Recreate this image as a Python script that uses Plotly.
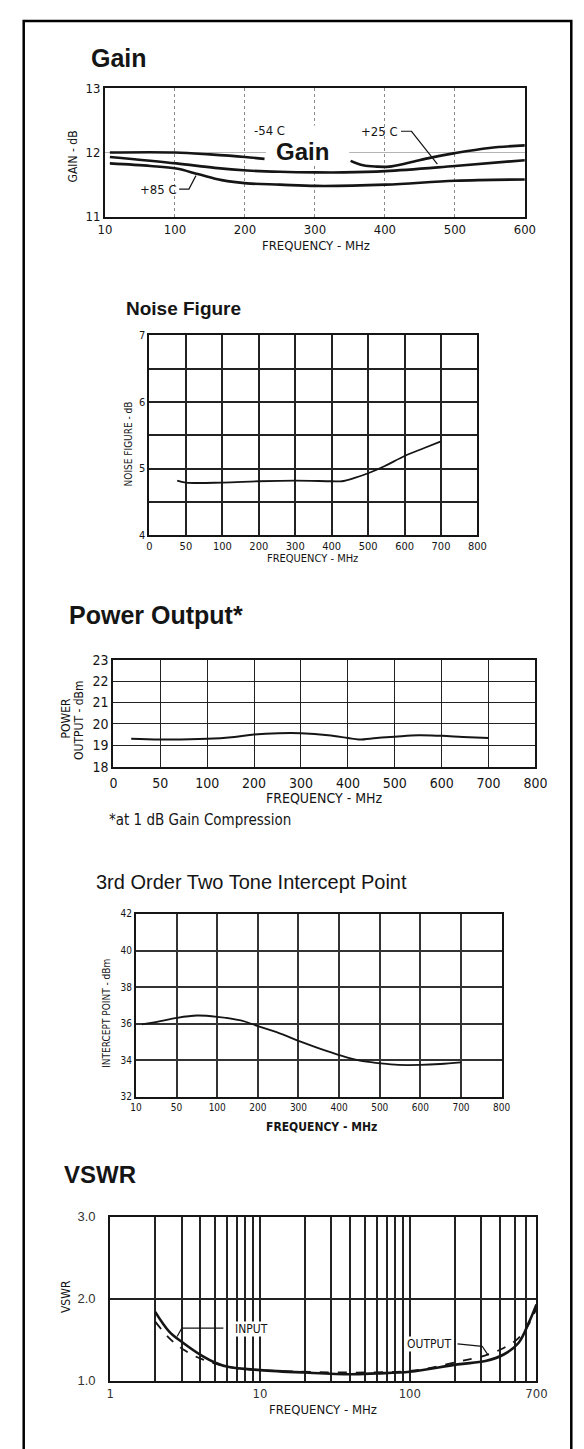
import numpy as np
import plotly.graph_objects as go

W, H = 584, 1449

# ---------------- data ----------------
# Gain (dB) vs frequency (MHz)
GAIN_X_TICKS = [0, 100, 200, 300, 400, 500, 600]
GAIN_X_LABELS = ["10", "100", "200", "300", "400", "500", "600"]
GAIN_Y_TICKS = [11, 12, 13]
GAIN_M54_FREQ_A = [7, 100, 150, 200, 228]
GAIN_M54_A = [12.0, 12.0, 11.97, 11.93, 11.9]
GAIN_M54_FREQ_B = [351, 369, 388, 406, 434, 466, 500, 549, 600]
GAIN_M54_B = [11.87, 11.8, 11.78, 11.78, 11.84, 11.92, 11.99, 12.07, 12.11]
GAIN_P25_FREQ = [7, 102, 157, 203, 250, 302, 341, 401, 500, 600]
GAIN_P25 = [11.93, 11.83, 11.76, 11.72, 11.70, 11.69, 11.69, 11.71, 11.79, 11.88]
GAIN_P85_FREQ = [7, 65, 102, 134, 167, 203, 250, 302, 401, 500, 600]
GAIN_P85 = [11.83, 11.79, 11.75, 11.66, 11.57, 11.52, 11.50, 11.48, 11.50, 11.56, 11.58]

# Noise figure (dB)
NF_X_LABELS = [0, 50, 100, 200, 300, 400, 500, 600, 700, 800]
NF_FREQ = [38, 50, 100, 200, 300, 400, 428, 463, 500, 546, 600, 654, 700]
NF_DB = [4.82, 4.79, 4.79, 4.81, 4.82, 4.81, 4.81, 4.86, 4.93, 5.04, 5.19, 5.31, 5.41]

# Power output (dBm)
PO_X_LABELS = [0, 50, 100, 200, 300, 400, 500, 600, 700, 800]
PO_FREQ = [19, 50, 100, 158, 200, 252, 300, 358, 400, 423, 461, 500, 550, 600, 645, 700]
PO_DBM = [19.31, 19.27, 19.30, 19.39, 19.5, 19.56, 19.56, 19.47, 19.34, 19.27, 19.34,
          19.4, 19.47, 19.44, 19.39, 19.34]

# 3rd order intercept point (dBm)
IP_X_LABELS = [10, 50, 100, 200, 300, 400, 500, 600, 700, 800]
IP_Y_TICKS = [32, 34, 36, 38, 40, 42]
IP_FREQ = [16, 34, 50, 75, 100, 158, 200, 261, 300, 356, 400, 451, 500, 546, 600, 649, 700]
IP_DBM = [35.96, 36.14, 36.32, 36.45, 36.38, 36.18, 35.87, 35.42, 35.06, 34.61, 34.29,
          33.98, 33.84, 33.75, 33.75, 33.80, 33.89]

# VSWR
VSWR_GRID = [1, 2, 3, 4, 5, 6, 7, 8, 9, 10, 20, 30, 40, 50, 60, 70, 80, 90,
             100, 200, 300, 400, 500, 600, 700]
VSWR_LABELED = [1, 10, 100, 700]
IN_FREQ = [2.0, 2.48, 3.08, 4.14, 5.04, 6.1, 10, 20, 40, 60, 100, 208, 320, 423, 531, 627, 700]
IN_VSWR = [1.84, 1.60, 1.46, 1.30, 1.22, 1.17, 1.13, 1.10, 1.08, 1.09, 1.11, 1.20, 1.24,
           1.32, 1.46, 1.72, 1.93]
OUT_FREQ = [2.0, 2.48, 3.08, 4.14, 6.1, 10, 100, 208, 320, 423, 531, 627, 700]
OUT_VSWR = [1.72, 1.52, 1.38, 1.26, 1.17, 1.13, 1.12, 1.23, 1.31, 1.40, 1.52, 1.70, 1.88]

# ---------------- helpers ----------------
AX = "Liberation Sans, Arial, Helvetica, sans-serif"
NARROW = "Liberation Sans Narrow, DejaVu Sans Condensed, Arial Narrow, sans-serif"
INK = "#151515"


def dx(l, r):
    return [l / W, r / W]


def dy(t, b):
    return [1 - b / H, 1 - t / H]


def pos(freq, labels):
    return np.interp(freq, labels, np.arange(len(labels)))


fig = go.Figure()


def line(x, y, ax, width=2.2, dash="solid", shape="spline"):
    fig.add_trace(go.Scatter(
        x=list(x), y=list(y), xaxis="x" + ax, yaxis="y" + ax, mode="lines",
        line=dict(color=INK, width=width, dash=dash, shape=shape),
        showlegend=False, hoverinfo="skip"))


# Gain
line(GAIN_M54_FREQ_A, GAIN_M54_A, "", 2.6)
line(GAIN_M54_FREQ_B, GAIN_M54_B, "", 2.6)
line(GAIN_P25_FREQ, GAIN_P25, "", 2.6)
line(GAIN_P85_FREQ, GAIN_P85, "", 2.6)
line([423, 438, 475], [12.33, 12.33, 11.82], "", 1.2, shape="linear")
line([106, 120, 130], [11.43, 11.43, 11.64], "", 1.2, shape="linear")

# Noise figure
line(pos(NF_FREQ, NF_X_LABELS), NF_DB, "2", 1.8)
# Power output
line(pos(PO_FREQ, PO_X_LABELS), PO_DBM, "3", 2.0)
# Intercept point
line(pos(IP_FREQ, IP_X_LABELS), IP_DBM, "4", 1.8)
# VSWR
line(IN_FREQ, IN_VSWR, "5", 2.6)
line(OUT_FREQ, OUT_VSWR, "5", 1.8, dash="dash")
line([5.7, 3.01, 2.8], [1.64, 1.64, 1.54], "5", 1.2, shape="linear")
line([208, 304, 334], [1.45, 1.42, 1.31], "5", 1.2, shape="linear")

base = dict(showline=True, linecolor=INK, linewidth=2, mirror=True, ticks="",
            zeroline=False, fixedrange=True)

layout = dict(
    width=W, height=H, autosize=False, margin=dict(l=0, r=0, t=0, b=0),
    paper_bgcolor="white", plot_bgcolor="white",
    # Gain
    xaxis=dict(base, domain=dx(93, 527), anchor="y", range=[0, 600],
               tickvals=GAIN_X_TICKS, ticktext=GAIN_X_LABELS,
               showgrid=True, gridcolor="#8a8a8a", gridwidth=1, griddash="dot",
               tickfont=dict(family=NARROW, size=13, color=INK)),
    yaxis=dict(base, domain=dy(73, 203), anchor="x", range=[11, 13],
               tickvals=GAIN_Y_TICKS, showgrid=True, gridcolor="#b5b5b5", gridwidth=1,
               tickfont=dict(family=NARROW, size=13, color=INK)),
    # Noise figure
    xaxis2=dict(base, domain=dx(139, 478), anchor="y2", range=[0, 9],
                tickvals=list(range(10)), ticktext=[str(v) for v in NF_X_LABELS],
                showgrid=True, gridcolor="#222", gridwidth=1.6,
                tickfont=dict(family=NARROW, size=11, color=INK)),
    yaxis2=dict(base, domain=dy(323, 525), anchor="x2", range=[4, 7],
                tickvals=[4, 4.5, 5, 5.5, 6, 6.5, 7],
                ticktext=["4", "", "5", "", "6", "", "7"],
                showgrid=True, gridcolor="#222", gridwidth=1.6,
                tickfont=dict(family=NARROW, size=11, color=INK)),
    # Power output
    xaxis3=dict(base, domain=dx(101.7, 538), anchor="y3", range=[0, 9],
                tickvals=list(range(10)), ticktext=[str(v) for v in PO_X_LABELS],
                showgrid=True, gridcolor="#222", gridwidth=1.4, ticklabelstandoff=3,
                tickfont=dict(family=NARROW, size=14, color=INK)),
    yaxis3=dict(base, domain=dy(651, 759), anchor="x3", range=[18, 23],
                tickvals=[18, 19, 20, 21, 22, 23],
                showgrid=True, gridcolor="#222", gridwidth=1.4,
                tickfont=dict(family=NARROW, size=14, color=INK)),
    # Intercept point
    xaxis4=dict(base, domain=dx(125, 503), anchor="y4", range=[0, 9],
                tickvals=list(range(10)), ticktext=[str(v) for v in IP_X_LABELS],
                showgrid=True, gridcolor="#333", gridwidth=1.5,
                tickfont=dict(family=NARROW, size=10, color=INK)),
    yaxis4=dict(base, domain=dy(908, 1093), anchor="x4", range=[32, 42],
                tickvals=IP_Y_TICKS,
                showgrid=True, gridcolor="#333", gridwidth=1.5,
                tickfont=dict(family=NARROW, size=10, color=INK)),
    # VSWR
    xaxis5=dict(base, domain=dx(98.3, 539), anchor="y5", type="log",
                range=[0, np.log10(700)], tickvals=VSWR_GRID,
                ticktext=[str(v) if v in VSWR_LABELED else "" for v in VSWR_GRID],
                showgrid=True, gridcolor="#222", gridwidth=1.5,
                tickfont=dict(family=NARROW, size=13, color="#333")),
    yaxis5=dict(base, domain=dy(1214, 1380), anchor="x5", range=[1, 3],
                tickvals=[1, 2, 3], ticktext=["1.0", "2.0", "3.0"],
                showgrid=True, gridcolor="#222", gridwidth=1.5, ticklabelstandoff=10,
                tickfont=dict(family=AX, size=13, color="#333")),
)

ann = []


def text(s, px, py, size, family=AX, bold=False, angle=0, xanchor="center", bg=None):
    d = dict(text=("<b>%s</b>" % s) if bold else s, x=px / W, y=1 - py / H,
             xref="paper", yref="paper", showarrow=False, xanchor=xanchor,
             yanchor="middle", textangle=angle,
             font=dict(family=family, size=size, color=INK))
    if bg:
        d["bgcolor"] = bg
        d["borderpad"] = 0
    ann.append(d)


# Gain panel texts
text("Gain", 76, 42, 25, AX, True, xanchor="left")
text("GAIN - dB", 60, 142, 12, NARROW, angle=-90)
text("FREQUENCY - MHz", 311, 232, 13, NARROW)
text("-54 C", 263, 116, 13, NARROW)
text("+25 C", 377, 117, 13, NARROW)
text("+85 C", 148, 175, 13, NARROW)
text("Gain", 297, 137, 24, AX, True)

# Noise figure texts
text("Noise Figure", 113, 296, 19, AX, True, xanchor="left")
text("NOISE FIGURE - dB", 117, 433, 10, NARROW, angle=-90)
text("FREQUENCY - MHz", 308, 549, 11, NARROW)

# Power output texts
text("Power Output*", 54, 606, 25, AX, True, xanchor="left")
text("POWER", 53, 710, 12, NARROW, angle=-90)
text("OUTPUT - dBm", 66, 712, 12, NARROW, angle=-90)
text("FREQUENCY - MHz", 320, 791, 14, NARROW)
text("*at 1 dB Gain Compression", 95, 813, 15, NARROW, xanchor="left")

# Intercept point texts
text("3rd Order Two Tone Intercept Point", 82, 876, 20, AX, xanchor="left")
text("INTERCEPT POINT - dBm", 95, 1008, 10, NARROW, angle=-90)
text("FREQUENCY - MHz", 317, 1123, 12, NARROW, True)

# VSWR texts
text("VSWR", 49, 1171, 24, AX, True, xanchor="left")
text("VSWR", 52, 1295, 12, NARROW, angle=-90)
text("FREQUENCY - MHz", 318, 1409, 13, NARROW)
text("INPUT", 244, 1328, 12, NARROW, bg="white")
text("OUTPUT", 428, 1343, 12, NARROW, bg="white")

layout["annotations"] = ann
layout["shapes"] = [
    dict(type="rect", xref="x", yref="y", x0=230, x1=349, y0=11.79, y1=12.42,
         fillcolor="white", line=dict(width=0), layer="above"),
    dict(type="rect", xref="paper", yref="paper", x0=9 / W, x1=575 / W,
         y0=-0.02, y1=1 - 5 / H, line=dict(color="black", width=2.5),
         fillcolor="rgba(0,0,0,0)", layer="above"),
]

fig.update_layout(**layout)
fig.write_html("out.html")
